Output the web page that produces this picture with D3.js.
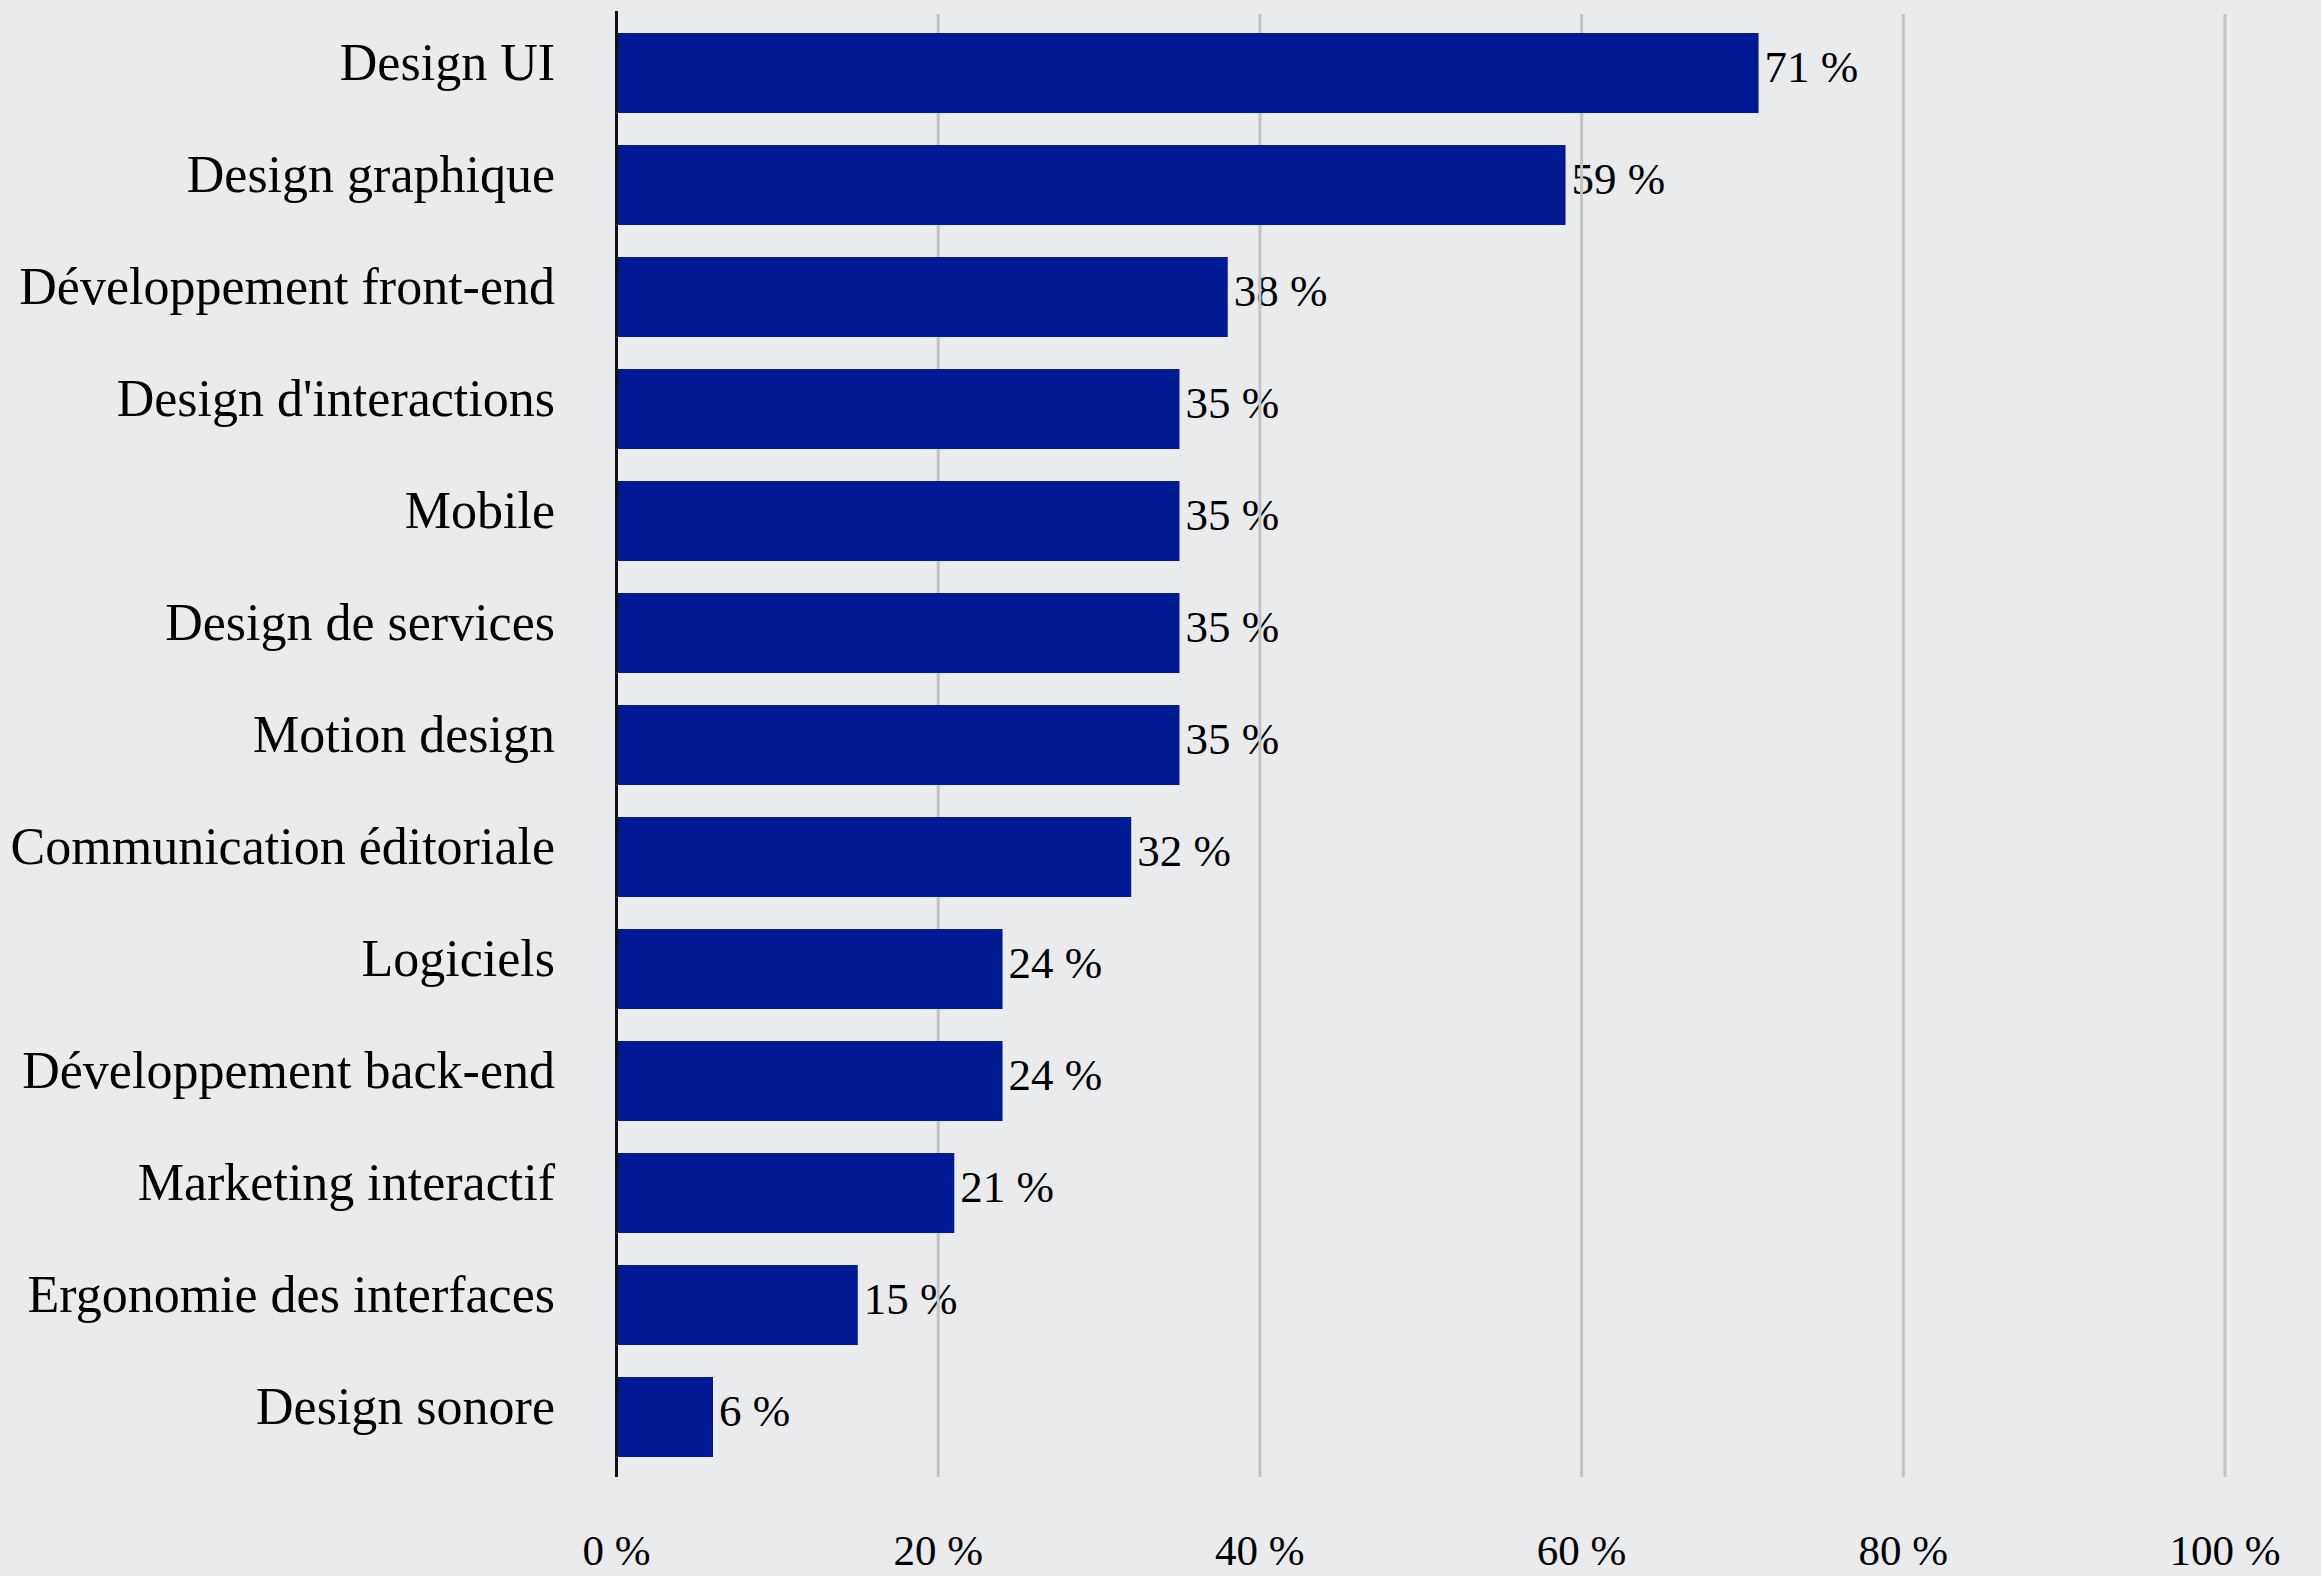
<!DOCTYPE html>
<html>
<head>
<meta charset="utf-8">
<script src="https://cdn.jsdelivr.net/npm/d3@7"></script>
<style>
  html, body { margin: 0; padding: 0; background: #eaebed; }
  svg { display: block; }
</style>
</head>
<body>
<svg id="chart" width="2321" height="1576"></svg>
<script>
const categories = [
  "Design UI",
  "Design graphique",
  "Développement front-end",
  "Design d'interactions",
  "Mobile",
  "Design de services",
  "Motion design",
  "Communication éditoriale",
  "Logiciels",
  "Développement back-end",
  "Marketing interactif",
  "Ergonomie des interfaces",
  "Design sonore"
];
const values = [71, 59, 38, 35, 35, 35, 35, 32, 24, 24, 21, 15, 6];
const tickValues = [0, 20, 40, 60, 80, 100];
const tickLabels = ["0 %", "20 %", "40 %", "60 %", "80 %", "100 %"];

const W = 2321, H = 1576;
const svg = d3.select("#chart");
svg.append("rect").attr("width", W).attr("height", H).attr("fill", "#eaebed");

const x = d3.scaleLinear().domain([0, 100]).range([616.5, 2225]);
const y = d3.scaleBand().domain(categories).range([17, 1473])
  .paddingInner(0.286).paddingOuter(0.143);

const font = "'Liberation Serif', 'Times New Roman', serif";

// value labels (drawn beneath gridlines, as in the reference)
svg.append("g").selectAll("text").data(values).join("text")
  .attr("x", d => x(d) + 6)
  .attr("y", (d, i) => y(categories[i]) + y.bandwidth() / 2 + 9)
  .attr("font-family", font)
  .attr("font-size", 45)
  .attr("fill", "#000")
  .text(d => d + " %");

// gridlines
svg.append("g").selectAll("line").data(tickValues.slice(1)).join("line")
  .attr("x1", d => x(d)).attr("x2", d => x(d))
  .attr("y1", 14).attr("y2", 1477)
  .attr("stroke", "#c2c3c5").attr("stroke-width", 3);

// bars
svg.append("g").selectAll("rect").data(values).join("rect")
  .attr("x", x(0))
  .attr("y", (d, i) => y(categories[i]))
  .attr("width", d => x(d) - x(0))
  .attr("height", y.bandwidth())
  .attr("fill", "#001a94");

// axis line
svg.append("line")
  .attr("x1", x(0)).attr("x2", x(0))
  .attr("y1", 11).attr("y2", 1477)
  .attr("stroke", "#111").attr("stroke-width", 3);

// category labels
svg.append("g").selectAll("text").data(categories).join("text")
  .attr("x", 555)
  .attr("y", d => y(d) + y.bandwidth() / 2 + 7)
  .attr("text-anchor", "end")
  .attr("font-family", font)
  .attr("font-size", 52)
  .attr("fill", "#000")
  .text(d => d);

// x tick labels
svg.append("g").selectAll("text").data(tickValues).join("text")
  .attr("x", d => x(d))
  .attr("y", 1565)
  .attr("text-anchor", "middle")
  .attr("font-family", font)
  .attr("font-size", 43)
  .attr("fill", "#000")
  .text((d, i) => tickLabels[i]);
</script>
</body>
</html>
